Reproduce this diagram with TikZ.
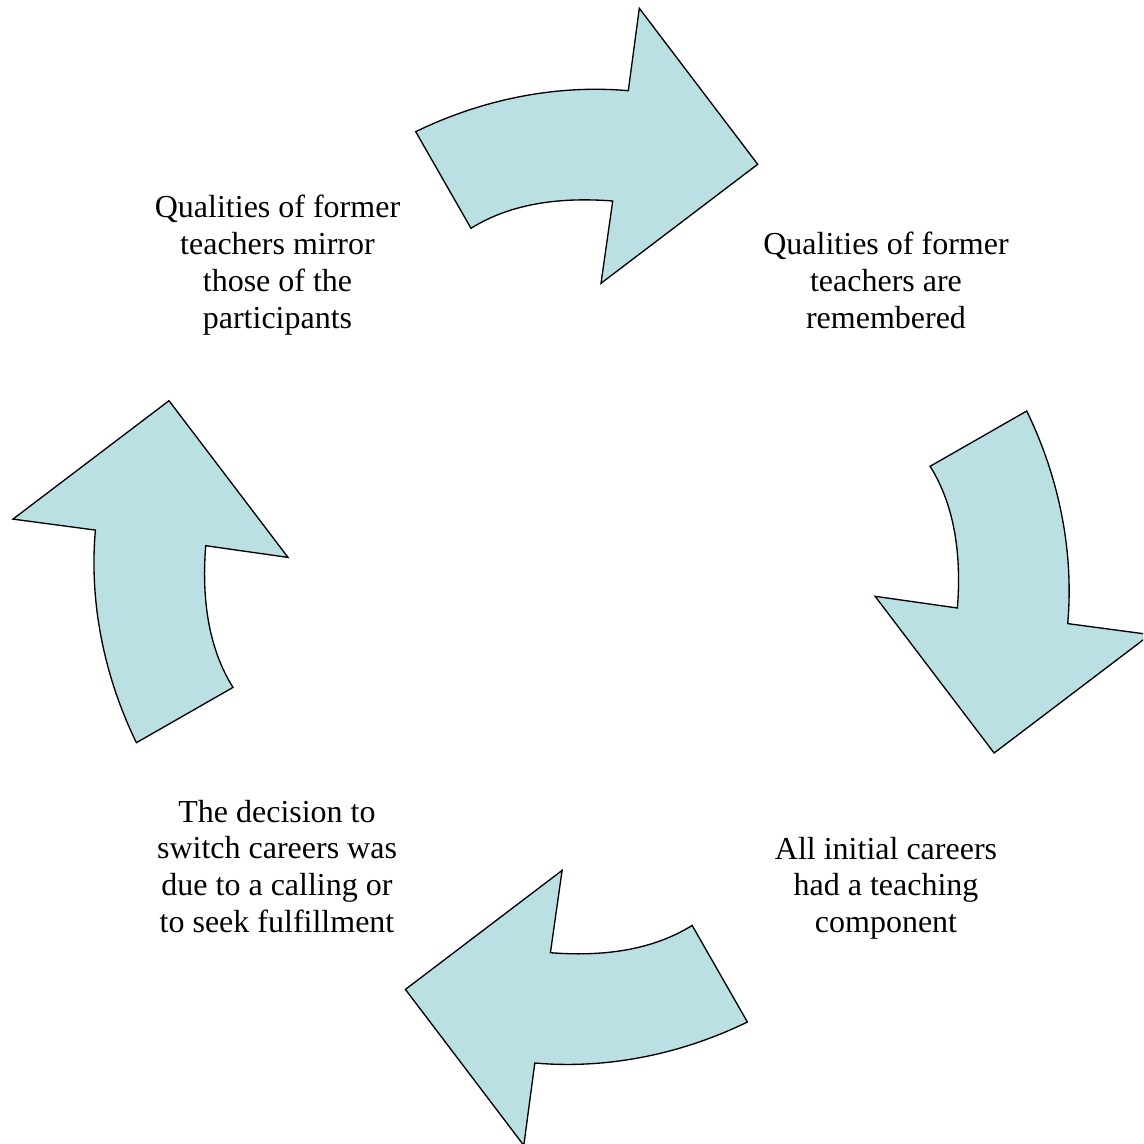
\documentclass[tikz,border=0pt]{standalone}
\usepackage{fontspec}
\setmainfont{Liberation Serif}
\definecolor{arrowfill}{RGB}{187,224,228}
\tikzset{
  cyclearrow/.style={fill=arrowfill, draw=black, line width=1pt, line join=miter},
  steptext/.style={align=center, font=\fontsize{24}{27.6}\selectfont, inner sep=0pt, anchor=base}
}
\begin{document}
\begin{tikzpicture}[x=0.75pt,y=-0.75pt]
\useasboundingbox (0,0) rectangle (1143,1144);
\clip (0,0) rectangle (1143,1144);
\coordinate (ctr) at (581.55,576.85);
\foreach \a in {0,-90,-180,-270}{
  \draw[cyclearrow, rotate around={\a:(ctr)}] (415.7,131.7) .. controls (481.6,99.6) and (555.6,84.3) .. (628.3,90.7) -- (639.3,8.3) -- (757.7,164.3) -- (601,283.3) -- (612.7,201) .. controls (563.6,197.2) and (512.7,202.2) .. (471,228.3) -- cycle;
}
% base anchor of a multi-line node = baseline of its last line
\node[steptext] (t1) at (277.5,328.4) {Qualities of former\\teachers mirror\\those of the\\participants};
\node[steptext] (t2) at (886,328.6) {Qualities of former\\teachers are\\remembered};
\node[steptext] (t3) at (886,932.6) {All initial careers\\had a teaching\\component};
\node[steptext] (t4) at (277,932.4) {The decision to\\switch careers was\\due to a calling or\\to seek fulfillment};
\end{tikzpicture}
\end{document}
